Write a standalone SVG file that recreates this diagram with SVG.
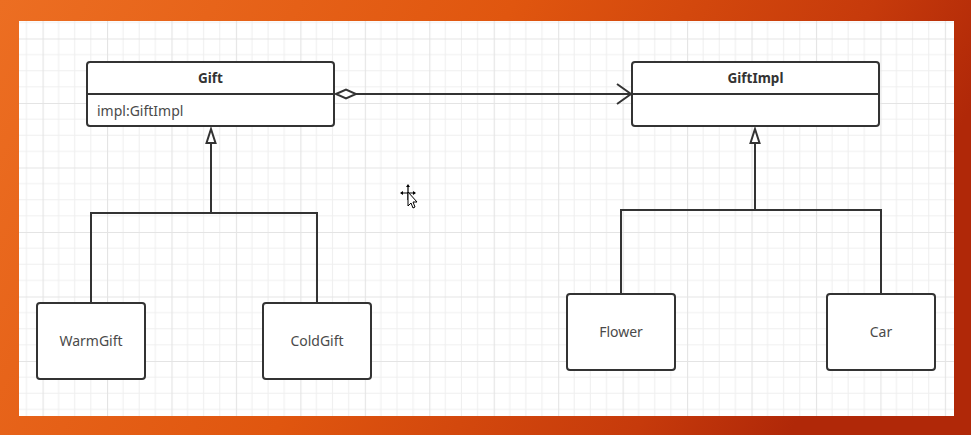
<svg xmlns="http://www.w3.org/2000/svg" width="971" height="435" viewBox="0 0 971 435">
<defs>
<linearGradient id="bg" x1="0" y1="0" x2="1" y2="0.25">
<stop offset="0" stop-color="#ec6e22"/>
<stop offset="0.5" stop-color="#e0560f"/>
<stop offset="0.85" stop-color="#c63a0b"/>
<stop offset="1" stop-color="#b02808"/>
</linearGradient>
<pattern id="grid" x="107" y="232" width="64.45" height="64.5" patternUnits="userSpaceOnUse">
<rect width="64.45" height="64.5" fill="#ffffff"/>
<path d="M16.1 0V64.5M32.2 0V64.5M48.3 0V64.5M0 16.1H64.45M0 32.2H64.45M0 48.4H64.45" stroke="#efefef" stroke-width="1" fill="none"/>
<path d="M0.5 0V64.5M0 0.5H64.45" stroke="#e4e4e4" stroke-width="1.2" fill="none"/>
</pattern>
<style>
.box{fill:#fff;stroke:#333;stroke-width:2}
.ln{fill:none;stroke:#333;stroke-width:2}
.t{font-family:"Noto Sans","Open Sans","Liberation Sans",sans-serif;font-size:14px;fill:#4a4a4a}
.b{font-weight:bold;fill:#333;font-size:13.5px}
</style>
</defs>
<rect width="971" height="435" fill="url(#bg)"/>
<rect x="19" y="21" width="935" height="395" fill="url(#grid)"/>
<g id="connectors">
<path class="ln" d="M211 143V213M91 303V213H317V303"/>
<polygon points="211,129 215.5,143 206.5,143" fill="#fff" stroke="#333" stroke-width="2"/>
<path class="ln" d="M755 143V210M621 294V210H881V294"/>
<polygon points="755,129 759.5,143 750.5,143" fill="#fff" stroke="#333" stroke-width="2"/>
<path class="ln" d="M356 94H631"/>
<polygon points="336,94 346,89.5 356,94 346,98.5" fill="#fff" stroke="#333" stroke-width="2"/>
<path class="ln" d="M617 84L631 94L617 104"/>
</g>
<g id="Gift">
<rect class="box" x="87" y="62" width="247" height="64" rx="3"/>
<path class="ln" d="M87 94H334"/>
<text class="t b" x="210.5" y="83" text-anchor="middle">Gift</text>
<text class="t" x="97" y="116">impl:GiftImpl</text>
</g>
<g id="GiftImpl">
<rect class="box" x="632" y="62" width="247" height="64" rx="3"/>
<path class="ln" d="M632 94H879"/>
<text class="t b" x="755.5" y="83" text-anchor="middle">GiftImpl</text>
</g>
<g id="WarmGift">
<rect class="box" x="37" y="303" width="108" height="76" rx="3"/>
<text class="t" x="91" y="346" text-anchor="middle">WarmGift</text>
</g>
<g id="ColdGift">
<rect class="box" x="263" y="303" width="108" height="76" rx="3"/>
<text class="t" x="317" y="346" text-anchor="middle">ColdGift</text>
</g>
<g id="Flower">
<rect class="box" x="567" y="294" width="108" height="76" rx="3"/>
<text class="t" x="621" y="337" text-anchor="middle">Flower</text>
</g>
<g id="Car">
<rect class="box" x="827" y="294" width="108" height="76" rx="3"/>
<text class="t" x="881" y="337" text-anchor="middle">Car</text>
</g>
<g id="cursor">
<path d="M408 186V200M401 193H415" stroke="#000" stroke-width="1.2"/>
<polygon points="408,184 406,187 410,187" fill="#000"/>
<polygon points="400,193 403,191 403,195" fill="#000"/>
<polygon points="416,193 413,191 413,195" fill="#000"/>
<polygon points="408,192 408,206 411,203 413,208 415,207 413,202 417,202" fill="#fff" stroke="#000" stroke-width="1"/>
</g>
</svg>
